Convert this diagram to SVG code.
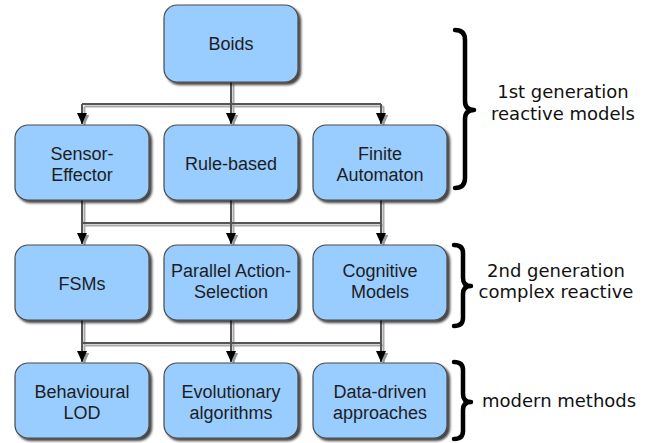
<svg xmlns="http://www.w3.org/2000/svg" width="655" height="443" viewBox="0 0 655 443">
<style>
.box{fill:#99ccff;stroke:#4a4a4a;stroke-width:1.2;filter:url(#sh)}
.t{font-family:"Liberation Sans",Arial,sans-serif;font-size:18px;fill:#1e1e1e;text-anchor:middle}
.lbl{font-family:"DejaVu Sans",sans-serif;font-size:18px;fill:#111;text-anchor:middle}
.ln{fill:none;stroke:#555;stroke-width:2}
.lns{fill:none;stroke:#aaa;stroke-width:2}
.arr{marker-end:url(#ah)}
.arrs{marker-end:url(#ahs)}
.brace{fill:none;stroke:#000;stroke-width:4.5;stroke-linecap:round;stroke-linejoin:round}
</style>
<defs>
<filter id="sh" x="-10%" y="-10%" width="125%" height="130%">
<feDropShadow dx="2.5" dy="2.5" stdDeviation="1.2" flood-color="#000" flood-opacity="0.75"/>
</filter>
<marker id="ah" markerUnits="userSpaceOnUse" markerWidth="12" markerHeight="10" refX="11" refY="5" orient="auto" viewBox="0 0 12 10">
<path d="M0,0 L11,5 L0,10 z" fill="#000"/>
</marker>
<marker id="ahs" markerUnits="userSpaceOnUse" markerWidth="12" markerHeight="10" refX="11" refY="5" orient="auto" viewBox="0 0 12 10">
<path d="M0,0 L11,5 L0,10 z" fill="#999"/>
</marker>
</defs>
<rect width="655" height="443" fill="#fff"/>
<g id="connectors">
<g transform="translate(2.5,2.5)">
<path class="lns" d="M231,82 V104 M82,104 H381 M82,200 V223 M231,200 V223 M381,200 V223 M82,223 H381 M82,320 V343 M231,320 V343 M381,320 V343 M82,343 H381"/>
<path class="lns arrs" d="M82,104 V123"/>
<path class="lns arrs" d="M231,104 V123"/>
<path class="lns arrs" d="M381,104 V123"/>
<path class="lns arrs" d="M82,223 V243"/>
<path class="lns arrs" d="M231,223 V243"/>
<path class="lns arrs" d="M381,223 V243"/>
<path class="lns arrs" d="M82,343 V361"/>
<path class="lns arrs" d="M231,343 V361"/>
<path class="lns arrs" d="M381,343 V361"/>
</g>
<path class="ln" d="M231,82 V104 M82,104 H381 M82,200 V223 M231,200 V223 M381,200 V223 M82,223 H381 M82,320 V343 M231,320 V343 M381,320 V343 M82,343 H381"/>
<path class="ln arr" d="M82,104 V124"/>
<path class="ln arr" d="M231,104 V124"/>
<path class="ln arr" d="M381,104 V124"/>
<path class="ln arr" d="M82,223 V244"/>
<path class="ln arr" d="M231,223 V244"/>
<path class="ln arr" d="M381,223 V244"/>
<path class="ln arr" d="M82,343 V362"/>
<path class="ln arr" d="M231,343 V362"/>
<path class="ln arr" d="M381,343 V362"/>
</g>
<g id="boids"><rect class="box" x="164" y="5" width="134" height="77" rx="13"/><text class="t" x="231" y="50">Boids</text></g>
<g id="sensor-effector"><rect class="box" x="15" y="125" width="134" height="75" rx="13"/><text class="t" x="82" y="160">Sensor-</text><text class="t" x="82" y="181">Effector</text></g>
<g id="rule-based"><rect class="box" x="164" y="125" width="134" height="75" rx="13"/><text class="t" x="231" y="170">Rule-based</text></g>
<g id="finite-automaton"><rect class="box" x="313" y="125" width="134" height="75" rx="13"/><text class="t" x="380" y="160">Finite</text><text class="t" x="380" y="181">Automaton</text></g>
<g id="fsms"><rect class="box" x="15" y="245" width="134" height="75" rx="13"/><text class="t" x="82" y="290">FSMs</text></g>
<g id="parallel-action-selection"><rect class="box" x="164" y="245" width="134" height="75" rx="13"/><text class="t" x="231" y="277">Parallel Action-</text><text class="t" x="231" y="298">Selection</text></g>
<g id="cognitive-models"><rect class="box" x="313" y="245" width="134" height="75" rx="13"/><text class="t" x="380" y="277">Cognitive</text><text class="t" x="380" y="298">Models</text></g>
<g id="behavioural-lod"><rect class="box" x="15" y="363" width="134" height="75" rx="13"/><text class="t" x="82" y="398">Behavioural</text><text class="t" x="82" y="419">LOD</text></g>
<g id="evolutionary-algorithms"><rect class="box" x="164" y="363" width="134" height="75" rx="13"/><text class="t" x="231" y="398">Evolutionary</text><text class="t" x="231" y="419">algorithms</text></g>
<g id="data-driven-approaches"><rect class="box" x="313" y="363" width="134" height="75" rx="13"/><text class="t" x="380" y="398">Data-driven</text><text class="t" x="380" y="419">approaches</text></g>
<g id="gen1">
<path class="brace" d="M455,30 Q465,30 465,40 L465,101 Q465,110 474,110 Q465,110 465,119 L465,178 Q465,188 455,188"/>
<text class="lbl" x="563" y="98">1st generation</text><text class="lbl" x="563" y="120">reactive models</text>
</g>
<g id="gen2">
<path class="brace" d="M454,245 Q463,245 463,253 L463,278 Q463,286 471,286 Q463,286 463,294 L463,318 Q463,326 454,326"/>
<text class="lbl" x="556" y="277">2nd generation</text><text class="lbl" x="556" y="298">complex reactive</text>
</g>
<g id="gen3">
<path class="brace" d="M454,362 Q463,362 463,370 L463,394 Q463,402 471,402 Q463,402 463,410 L463,431 Q463,439 454,439"/>
<text class="lbl" x="482" y="407" style="text-anchor:start">modern methods</text>
</g>
</svg>
